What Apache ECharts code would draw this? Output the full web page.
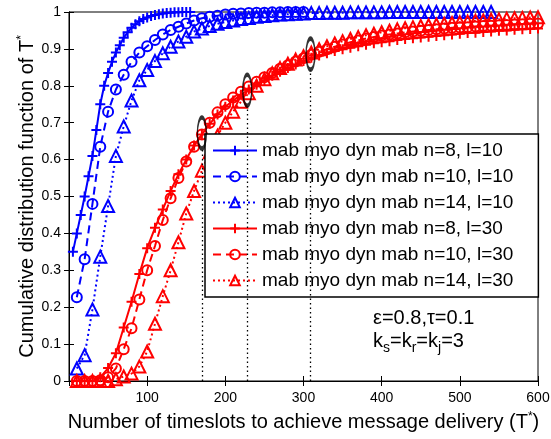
<!DOCTYPE html>
<html>
<head>
<meta charset="utf-8">
<script src="https://cdn.jsdelivr.net/npm/echarts@6/dist/echarts.min.js"></script>
<style>
  html, body { margin: 0; padding: 0; background: #fff; }
  #chart { width: 551px; height: 439px; }
</style>
</head>
<body>
<div id="chart"></div>
<script>
  // x grids (timeslots)
  const x5 = [5, 10, 15, 20, 25, 30, 35, 40, 45, 50, 55, 60, 65, 70, 75, 80, 85, 90, 95, 100,
    105, 110, 115, 120, 125, 130, 135, 140, 145, 150, 155]
  const x10 = [10, 20, 30, 40, 50, 60, 70, 80, 90, 100, 110, 120, 130, 140, 150, 160, 170, 180, 190, 200,
    210, 220, 230, 240, 250, 260, 270, 280, 290, 300, 310, 320, 330, 340, 350, 360, 370, 380, 390, 400,
    410, 420, 430, 440, 450, 460, 470, 480, 490, 500, 510, 520, 530, 540, 550, 560, 570, 580, 590, 600]

  // l=10
  const blueN8 = [0.35, 0.40, 0.45, 0.50, 0.555, 0.61, 0.68, 0.75, 0.80, 0.835, 0.865, 0.89, 0.91, 0.93, 0.945,
    0.957, 0.967, 0.975, 0.981, 0.985, 0.989, 0.992, 0.994, 0.996, 0.997, 0.998, 0.999, 0.999, 1.0, 1.0, 1.0]
  const blueN10 = [0.227, 0.33, 0.48, 0.635, 0.73, 0.79, 0.83, 0.865, 0.89, 0.907, 0.924, 0.939, 0.951, 0.96,
    0.969, 0.977, 0.983, 0.987, 0.99, 0.993, 0.995, 0.996, 0.997, 0.998, 0.998, 0.999, 0.999, 1.0, 1.0, 1.0]
  const blueN14 = [0.034, 0.07, 0.194, 0.337, 0.474, 0.61, 0.69, 0.76, 0.815, 0.843, 0.867, 0.888, 0.906, 0.92,
    0.933, 0.947, 0.955, 0.962, 0.968, 0.973, 0.977, 0.981, 0.984, 0.987, 0.989, 0.991, 0.993, 0.994, 0.995,
    0.996, 0.997, 0.997, 0.998, 0.998, 0.998, 0.999, 0.999, 0.999, 0.999, 0.999, 1.0, 1.0, 1.0, 1.0, 1.0,
    1.0, 1.0, 1.0, 1.0, 1.0, 1.0, 1.0, 1.0, 1.0]

  // l=30
  const redN8 = [0, 0, 0, 0.01, 0.035, 0.075, 0.145, 0.215, 0.29, 0.36, 0.415, 0.465, 0.515, 0.56, 0.60,
    0.638, 0.668, 0.697, 0.722, 0.743, 0.76, 0.776, 0.79, 0.803, 0.815, 0.827, 0.838, 0.848, 0.858, 0.867,
    0.876, 0.882, 0.888, 0.894, 0.899, 0.903, 0.907, 0.911, 0.915, 0.918, 0.921, 0.924, 0.927, 0.929, 0.931,
    0.933, 0.935, 0.937, 0.939, 0.941, 0.943, 0.944, 0.946, 0.947, 0.949, 0.95, 0.952, 0.953, 0.954, 0.955]
  const redN10 = [0, 0, 0, 0.002, 0.01, 0.034, 0.086, 0.143, 0.221, 0.30, 0.366, 0.436, 0.495, 0.55, 0.595,
    0.635, 0.668, 0.70, 0.728, 0.75, 0.768, 0.784, 0.798, 0.811, 0.823, 0.835, 0.846, 0.856, 0.866, 0.875,
    0.884, 0.892, 0.899, 0.906, 0.912, 0.918, 0.923, 0.928, 0.932, 0.936, 0.939, 0.942, 0.945, 0.947, 0.949,
    0.951, 0.953, 0.955, 0.957, 0.958, 0.959, 0.961, 0.962, 0.963, 0.964, 0.965, 0.966, 0.967, 0.968, 0.969]
  const redN14 = [0, 0, 0, 0, 0, 0.005, 0.012, 0.02, 0.039, 0.08, 0.155, 0.23, 0.30, 0.376, 0.454,
    0.515, 0.57, 0.62, 0.665, 0.70, 0.73, 0.757, 0.78, 0.80, 0.818, 0.834, 0.848, 0.86, 0.871, 0.88,
    0.89, 0.899, 0.907, 0.915, 0.921, 0.927, 0.932, 0.937, 0.941, 0.945, 0.949, 0.953, 0.956, 0.959, 0.962,
    0.964, 0.966, 0.968, 0.97, 0.972, 0.974, 0.976, 0.977, 0.979, 0.98, 0.982, 0.983, 0.984, 0.985, 0.986]

  // marked points (ellipses) with dotted drop lines
  const markX = [170, 228, 309]
  const markY = [0.672, 0.788, 0.886]

  const names = [
    'mab myo dyn mab n=8, l=10',
    'mab myo dyn mab n=10, l=10',
    'mab myo dyn mab n=14, l=10',
    'mab myo dyn mab n=8, l=30',
    'mab myo dyn mab n=10, l=30',
    'mab myo dyn mab n=14, l=30'
  ]

  const BLUE = '#0000ff'
  const RED = '#ff0000'
  const PLUS = 'path://M5,0L5,10M0,5L10,5'
  const FONT = 'Liberation Sans, Arial, sans-serif'

  function pairs(xs, ys) {
    return ys.map((y, i) => [xs[i], y])
  }

  function mkSeries(name, xs, ys, color, symbol, size, dash) {
    return {
      name,
      type: 'line',
      data: pairs(xs, ys),
      symbol,
      symbolSize: size,
      showAllSymbol: true,
      clip: false,
      animation: false,
      lineStyle: { color, width: 2, type: dash },
      itemStyle: { color: 'transparent', borderColor: color, borderWidth: 2 },
      emphasis: { disabled: true }
    }
  }

  const chart = echarts.init(document.getElementById('chart'))

  const axisFont = { fontFamily: FONT, color: '#000' }

  const option = {
    backgroundColor: '#fff',
    animation: false,
    grid: {
      left: 69, right: 13, top: 12, bottom: 58,
      outerBoundsMode: 'none',
      show: true, borderColor: '#000', borderWidth: 1
    },
    legend: {
      orient: 'vertical',
      left: 205,
      top: 134,
      data: names,
      itemWidth: 44,
      itemHeight: 12,
      itemGap: 7,
      padding: [7, 25, 7, 7],
      backgroundColor: '#fff',
      borderColor: '#000',
      borderWidth: 1.5,
      borderRadius: 0,
      selectedMode: false,
      textStyle: { fontSize: 19, lineHeight: 19, color: '#000', fontFamily: FONT }
    },
    xAxis: [
      {
        type: 'value', min: 0, max: 600, interval: 100,
        name: '{a|Number of timeslots to achieve message delivery (T}{s|*}{a|)}',
        nameLocation: 'middle', nameGap: 30, nameMoveOverlap: false,
        nameTextStyle: {
          rich: {
            a: { fontSize: 20, ...axisFont },
            s: { fontSize: 12, verticalAlign: 'top', padding: [0, 0, 10, 0], ...axisFont }
          }
        },
        splitLine: { show: false },
        axisLine: { lineStyle: { color: '#000' } },
        axisTick: { inside: true, length: 5, lineStyle: { color: '#000' } },
        axisLabel: { fontSize: 14, margin: 10, ...axisFont, formatter: v => (v === 0 ? '' : v) }
      },
      {
        type: 'value', min: 0, max: 600, interval: 100, position: 'top',
        splitLine: { show: false },
        axisLine: { lineStyle: { color: '#000' } },
        axisTick: { inside: true, length: 5, lineStyle: { color: '#000' } },
        axisLabel: { show: false }
      }
    ],
    yAxis: [
      {
        type: 'value', min: 0, max: 1, interval: 0.1,
        name: '{a|Cumulative distribution function of T}{s|*}',
        nameLocation: 'middle', nameGap: 31, nameMoveOverlap: false,
        nameTextStyle: {
          rich: {
            a: { fontSize: 20, ...axisFont },
            s: { fontSize: 12, verticalAlign: 'top', padding: [0, 0, 10, 0], ...axisFont }
          }
        },
        splitLine: { show: false },
        axisLine: { lineStyle: { color: '#000' } },
        axisTick: { inside: true, length: 5, lineStyle: { color: '#000' } },
        axisLabel: { fontSize: 14, margin: 8, ...axisFont, formatter: v => +v.toFixed(1) + '' }
      },
      {
        type: 'value', min: 0, max: 1, interval: 0.1, position: 'right',
        splitLine: { show: false },
        axisLine: { lineStyle: { color: '#000' } },
        axisTick: { inside: true, length: 5, lineStyle: { color: '#000' } },
        axisLabel: { show: false }
      }
    ],
    series: [
      mkSeries(names[0], x5, blueN8, BLUE, PLUS, 10, 'solid'),
      mkSeries(names[1], x10, blueN10, BLUE, 'circle', 10, [8, 5]),
      mkSeries(names[2], x10, blueN14, BLUE, 'triangle', 12, [2, 3]),
      mkSeries(names[3], x10, redN8, RED, PLUS, 10, 'solid'),
      mkSeries(names[4], x10, redN10, RED, 'circle', 10, [8, 5]),
      mkSeries(names[5], x10, redN14, RED, 'triangle', 12, [2, 3]),
      {
        type: 'scatter',
        z: 6,
        animation: false,
        silent: true,
        clip: false,
        data: pairs(markX, markY),
        symbol: 'circle',
        symbolSize: [9, 31],
        itemStyle: { color: 'transparent', borderColor: '#000', borderWidth: 2.5 },
        markLine: {
          silent: true,
          symbol: 'none',
          animation: false,
          label: { show: false },
          lineStyle: { color: '#000', width: 1.3, type: [1.5, 3] },
          data: markX.map((x, i) => [{ coord: [x, 0] }, { coord: [x, markY[i] - 0.043] }])
        }
      }
    ],
    graphic: [
      {
        type: 'text', left: 373, top: 308,
        style: { text: 'ε=0.8,τ=0.1', fontSize: 20, fill: '#000', fontFamily: FONT }
      },
      {
        type: 'text', left: 373, top: 331,
        style: {
          text: 'k{s|s}=k{s|r}=k{s|j}=3',
          fontSize: 20, fill: '#000', fontFamily: FONT,
          rich: {
            s: { fontSize: 14, padding: [14, 0, 0, 0], fontFamily: FONT }
          }
        }
      }
    ]
  }

  chart.setOption(option)
</script>
</body>
</html>
